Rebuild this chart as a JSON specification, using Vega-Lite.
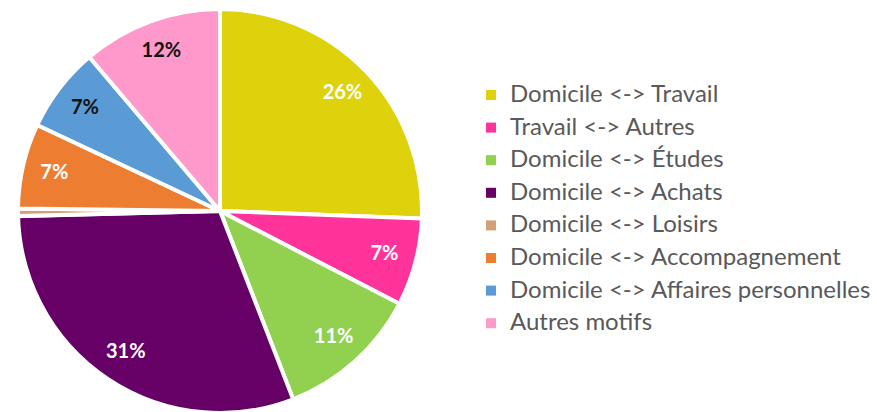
{
  "$schema": "https://vega.github.io/schema/vega-lite/v6.json",
  "width": 440,
  "height": 404,
  "padding": {"top": 1, "left": 0, "right": 0, "bottom": 0},
  "background": "white",
  "view": {"stroke": null},
  "data": {
    "values": [
      {"idx": 1, "motif": "Domicile <-> Travail", "part": 25.6, "label": "26%"},
      {"idx": 2, "motif": "Travail <-> Autres", "part": 7.0, "label": "7%"},
      {"idx": 3, "motif": "Domicile <-> Études", "part": 11.5, "label": "11%"},
      {"idx": 4, "motif": "Domicile <-> Achats", "part": 30.5, "label": "31%"},
      {"idx": 5, "motif": "Domicile <-> Loisirs", "part": 0.6, "label": ""},
      {"idx": 6, "motif": "Domicile <-> Accompagnement", "part": 6.8, "label": "7%"},
      {"idx": 7, "motif": "Domicile <-> Affaires personnelles", "part": 6.8, "label": "7%"},
      {"idx": 8, "motif": "Autres motifs", "part": 11.2, "label": "12%"}
    ]
  },
  "encoding": {
    "theta": {"field": "part", "type": "quantitative", "stack": true},
    "order": {"field": "idx", "type": "quantitative"}
  },
  "layer": [
    {
      "mark": {"type": "arc", "outerRadius": 202, "stroke": "white", "strokeWidth": 4},
      "encoding": {
        "color": {
          "field": "motif",
          "type": "nominal",
          "sort": null,
          "scale": {
            "domain": ["Domicile <-> Travail", "Travail <-> Autres", "Domicile <-> Études", "Domicile <-> Achats", "Domicile <-> Loisirs", "Domicile <-> Accompagnement", "Domicile <-> Affaires personnelles", "Autres motifs"],
            "range": ["#DDD20C", "#FF3399", "#92D050", "#660066", "#D4A07A", "#ED7D31", "#5B9BD5", "#FF99CC"]
          },
          "legend": {
            "title": null,
            "orient": "none",
            "legendX": 479,
            "legendY": 74,
            "symbolType": "square",
            "symbolSize": 100,
            "symbolStrokeWidth": 0,
            "labelFont": "Lato",
            "labelFontSize": 24,
            "labelColor": "#595959",
            "labelLimit": 500,
            "labelOffset": 7,
            "rowPadding": 8.6
          }
        }
      }
    },
    {
      "mark": {"type": "text", "radius": 170, "font": "Lato", "fontWeight": "bold", "fontSize": 20},
      "encoding": {
        "text": {"field": "label"},
        "fill": {
          "condition": {"test": "datum.idx >= 7", "value": "#111111"},
          "value": "white"
        }
      }
    }
  ]
}
